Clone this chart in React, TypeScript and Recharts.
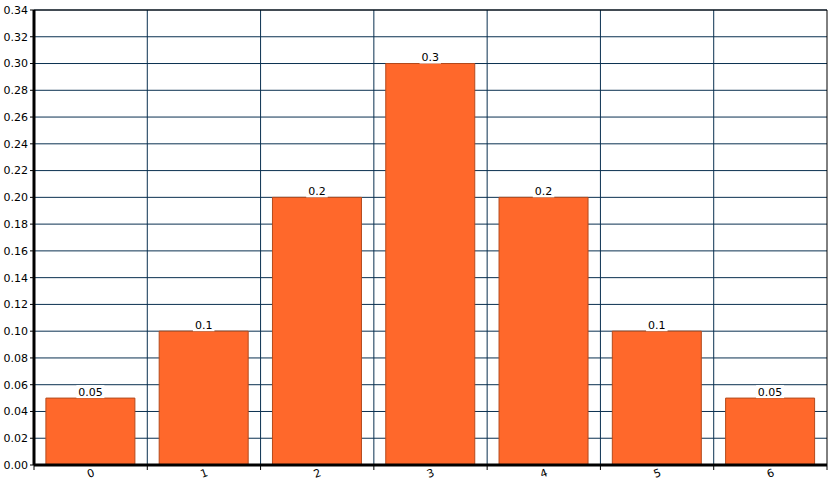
import { BarChart, Bar, XAxis, YAxis, CartesianGrid, LabelList, ReferenceLine } from 'recharts';

const categories = ['0', '1', '2', '3', '4', '5', '6'];
const probabilities = [0.05, 0.1, 0.2, 0.3, 0.2, 0.1, 0.05];
const yTicks = [0, 0.02, 0.04, 0.06, 0.08, 0.1, 0.12, 0.14, 0.16, 0.18, 0.2, 0.22, 0.24, 0.26, 0.28, 0.3, 0.32, 0.34];

const data = categories.map((name, i) => ({ name, value: probabilities[i] }));

const W = 831;
const H = 482;
const LEFT = 34;
const RIGHT = 4;
const BAND = (W - LEFT - RIGHT) / categories.length;
const FONT = '"DejaVu Sans", Verdana, sans-serif';

const XTick = (props: any) => {
  const { x, y, payload, index } = props;
  const last = index === categories.length - 1;
  return (
    <g>
      <line x1={x - BAND / 2} x2={x - BAND / 2} y1={y - 8} y2={y - 3} stroke="#000" />
      {last && <line x1={x + BAND / 2} x2={x + BAND / 2} y1={y - 8} y2={y - 3} stroke="#000" />}
      <text
        x={x}
        y={y + 4}
        textAnchor="middle"
        fontSize={11}
        fontFamily={FONT}
        fill="#000"
        transform={`rotate(-20 ${x} ${y})`}
      >
        {payload.value}
      </text>
    </g>
  );
};

const ValueLabel = (props: any) => {
  const { x, y, width, value } = props;
  const txt = String(value);
  const w = txt.length * 6.5 + 2;
  const cx = x + width / 2;
  return (
    <g>
      <rect x={cx - w / 2} y={y - 13} width={w} height={13} fill="#fff" />
      <text x={cx} y={y - 2.5} textAnchor="middle" fontSize={11} fontFamily={FONT} fill="#000">
        {txt}
      </text>
    </g>
  );
};

export default function App() {
  return (
    <div style={{ position: 'absolute', left: 0, top: 0, background: '#fff' }}>
      <BarChart
        width={W}
        height={H}
        data={data}
        margin={{ top: 10, right: 0, left: 0, bottom: 0 }}
        barCategoryGap="10.5%"
      >
        <CartesianGrid
          stroke="#0a3050"
          strokeWidth={1}
          verticalCoordinatesGenerator={({ offset }: any) =>
            categories.slice(1).map((_, i) => offset.left + ((i + 1) * offset.width) / categories.length)
          }
        />
        <XAxis
          dataKey="name"
          height={17}
          tickLine={false}
          axisLine={{ stroke: '#000', strokeWidth: 3 }}
          tick={<XTick />}
          interval={0}
        />
        <YAxis
          width={LEFT}
          domain={[0, 0.34]}
          ticks={yTicks}
          interval={0}
          tickFormatter={(v: number) => v.toFixed(2)}
          tickSize={4}
          tickLine={{ stroke: '#000' }}
          axisLine={{ stroke: '#000', strokeWidth: 3 }}
          tick={{ fontSize: 11, fontFamily: FONT, fill: '#000' }}
        />
        <YAxis
          yAxisId="r"
          orientation="right"
          width={RIGHT}
          domain={[0, 1]}
          tick={false}
          tickLine={false}
          axisLine={{ stroke: '#000', strokeWidth: 1 }}
        />
        <ReferenceLine y={0.34} stroke="#000" strokeWidth={1} />
        <Bar dataKey="value" fill="#ff682b" stroke="#b44a1c" strokeWidth={1} isAnimationActive={false}>
          <LabelList dataKey="value" content={<ValueLabel />} />
        </Bar>
      </BarChart>
    </div>
  );
}
